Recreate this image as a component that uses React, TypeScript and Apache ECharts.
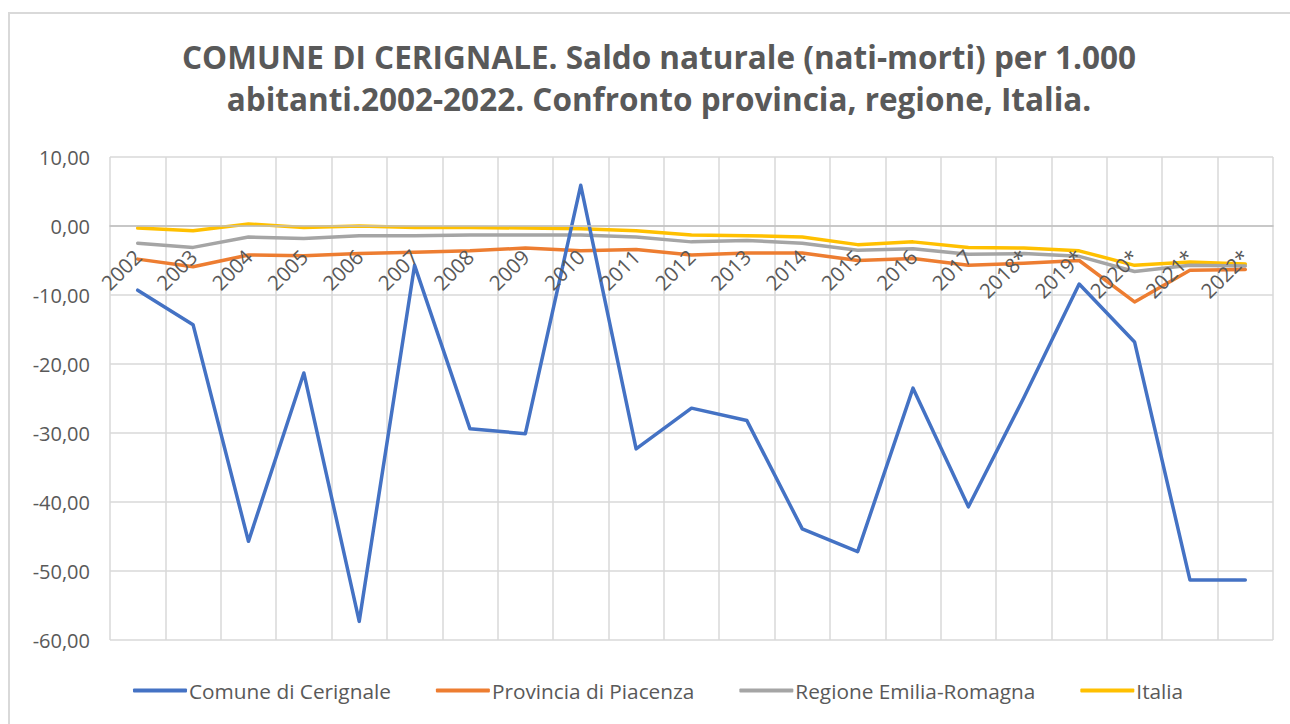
import React, { useEffect, useRef } from "react";
import * as echarts from "echarts";

const years = ["2002","2003","2004","2005","2006","2007","2008","2009","2010","2011","2012","2013","2014","2015","2016","2017","2018*","2019*","2020*","2021*","2022*"];
const comune = [-9.3,-14.3,-45.7,-21.3,-57.3,-5.7,-29.4,-30.1,5.9,-32.3,-26.4,-28.2,-43.9,-47.2,-23.5,-40.7,-24.9,-8.4,-16.8,-51.3,-51.3];
const provincia = [-4.8,-5.9,-4.2,-4.3,-4.0,-3.8,-3.6,-3.2,-3.6,-3.4,-4.2,-3.9,-3.9,-5.0,-4.7,-5.7,-5.4,-5.0,-11.0,-6.4,-6.3];
const regione = [-2.5,-3.1,-1.6,-1.8,-1.4,-1.4,-1.3,-1.3,-1.3,-1.6,-2.3,-2.1,-2.5,-3.5,-3.3,-4.1,-4.0,-4.4,-6.6,-5.7,-5.8];
const italia = [-0.3,-0.7,0.3,-0.2,0.0,-0.2,-0.2,-0.3,-0.4,-0.7,-1.3,-1.4,-1.6,-2.7,-2.3,-3.1,-3.2,-3.6,-5.7,-5.2,-5.5];
const seriesNames = ["Comune di Cerignale","Provincia di Piacenza","Regione Emilia-Romagna","Italia"];
const colors = ["#4472C4","#ED7D31","#A5A5A5","#FFC000"];
const titleLines = ["COMUNE DI CERIGNALE. Saldo naturale (nati-morti) per 1.000","abitanti.2002-2022. Confronto provincia, regione, Italia."];

export default function App() {
  const ref = useRef<HTMLDivElement>(null);
  useEffect(() => {
    if (!ref.current) return;
    const chart = echarts.init(ref.current, null, { renderer: "svg" });
    const font = "Open Sans";
    const data = [comune, provincia, regione, italia];
    const gridTop = 157;
    const gridBottom = 84;
    const plotH = 724 - gridTop - gridBottom;
    const zeroOffset = -plotH * (60 / 70);
    chart.setOption({
      animation: false,
      backgroundColor: "transparent",
      color: colors,
      title: {
        text: titleLines.join("\n"),
        left: 654,
        textAlign: "center",
        top: 30,
        textStyle: { fontFamily: font, fontSize: 31.5, fontWeight: "bold", color: "#595959", lineHeight: 42 },
      },
      grid: { left: 110, right: 17, top: gridTop, bottom: gridBottom, containLabel: false },
      legend: {
        bottom: 18,
        left: 128,
        icon: "roundRect",
        itemWidth: 54,
        itemHeight: 4,
        itemGap: 45,
        textStyle: { fontFamily: font, fontSize: 20.8, color: "#595959", padding: [0, 0, 0, -3] },
        data: seriesNames,
      },
      xAxis: [
        {
          type: "category",
          data: years,
          boundaryGap: true,
          axisLine: { show: false },
          axisTick: { show: false },
          axisLabel: { show: false },
          splitLine: { show: true, interval: 0, lineStyle: { color: "#d9d9d9", width: 1.5 } },
        },
        {
          type: "category",
          data: years,
          position: "bottom",
          offset: zeroOffset,
          z: 20,
          boundaryGap: true,
          axisLine: { onZero: false, lineStyle: { color: "#bfbfbf", width: 1.5 } },
          axisTick: { show: false },
          axisLabel: { interval: 0, rotate: 45, fontFamily: font, fontSize: 20.5, color: "#595959", margin: 27 },
          splitLine: { show: false },
        },
      ],
      yAxis: {
        type: "value",
        min: -60,
        max: 10,
        interval: 10,
        axisLine: { show: false },
        axisTick: { show: false },
        axisLabel: {
          fontFamily: font, fontSize: 20, color: "#595959", margin: 20,
          formatter: (v: number) => v.toFixed(2).replace(".", ","),
        },
        splitLine: { lineStyle: { color: "#d9d9d9", width: 1.5 } },
      },
      series: data.map((d, i) => ({
        name: seriesNames[i],
        type: "line",
        data: d,
        xAxisIndex: 0,
        symbol: "none",
        lineStyle: { width: 3.5, color: colors[i], cap: "round", join: "round" },
        z: 10 - i,
      })),
    });
    return () => chart.dispose();
  }, []);
  return (
    <div style={{ position: "fixed", left: 0, top: 0, width: 1290, height: 724, overflow: "hidden", background: "#fff" }}>
      <div style={{ position: "absolute", left: 8, top: 12, width: 1400, height: 800, border: "2px solid #d9d9d9", boxSizing: "border-box" }} />
      <div ref={ref} style={{ position: "absolute", left: 0, top: 0, width: 1290, height: 724 }} />
    </div>
  );
}
